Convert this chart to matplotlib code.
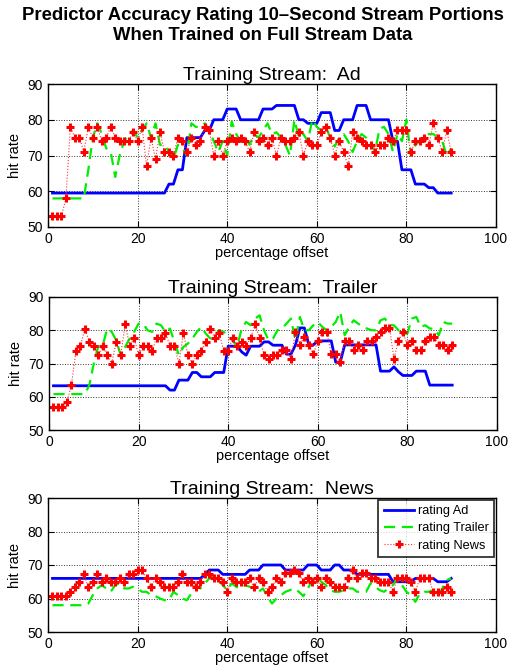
import numpy as np
import matplotlib
matplotlib.use("Agg")
import matplotlib.pyplot as plt

plt.rcParams['font.family'] = ['Liberation Sans', 'DejaVu Sans']

x = list(range(1, 91))

# ---- Training stream: Ad ----
ad_ad = [59.5]*26 + [62, 62, 66, 66, 75, 75, 75, 75, 77, 77, 80, 80, 80, 83, 83, 83,
         80, 80, 80, 80, 80, 83, 83, 83, 84, 84, 84, 84, 84, 80, 80, 79, 79, 79,
         82, 82, 82, 77, 77, 80, 80, 80, 84, 84, 84, 80, 80, 80, 80, 80, 74, 74,
         66, 66, 66, 62, 62, 62, 61, 61, 59.5, 59.5, 59.5, 59.5]
ad_trailer = [58, 58, 58, 58, 58, 58, 58, 58, 66, 75, 79, 76, 72, 71, 64, 70, 74, 76,
              77, 75, 77, 79, 75, 79, 73, 73, 71, 69, 73, 72, 70, 79, 78, 78, 79, 77,
              74, 71, 74, 70, 79.5, 76, 74, 75, 73, 76, 75, 77, 79, 76, 76.5, 75, 73,
              70, 80, 75, 76, 74, 80, 78, 77, 78, 75, 72.5, 75, 76, 74, 71, 74, 76,
              75, 74, 71, 77.5, 78, 76, 71, 76, 74, 80, 70, 73, 74, 75, 76, 76, 75,
              74, 70, 72]
ad_news = [53, 53, 53, 58, 78, 75, 75, 71, 78, 75, 78, 74, 75, 78, 75, 74, 74, 74,
           76.5, 74, 78, 67, 75, 69, 76.5, 71, 71, 70, 75, 74, 71, 75, 73, 74, 78, 77,
           70, 74, 70, 74, 75, 74, 75, 74, 71, 76.5, 74, 75, 73, 75, 70, 75, 74, 74,
           75, 76.5, 70, 74, 73, 73, 76.5, 78, 75, 70, 74, 71, 67, 76.5, 75, 74, 73,
           73, 71, 73, 73, 75, 74, 77, 77, 77, 71, 74, 74, 75, 73, 79, 75, 71, 77, 71]

# ---- Training stream: Trailer ----
tr_ad = [63.3]*26 + [62, 62, 65, 65, 65, 67.3, 67.3, 66, 66, 66, 67.3, 67.3, 67.3,
         75.2, 75.2, 75.2, 73.5, 72.5, 75.2, 75.2, 75.2, 76.5, 76.5, 75.5, 75.5, 75.5,
         72.8, 72.8, 75.5, 80.7, 80.7, 75.6, 75.6, 76.8, 76.8, 76.8, 76.8, 70.4, 70.4,
         75.6, 75.6, 75.6, 75.6, 75.6, 75.6, 75.6, 75.6, 67.7, 67.7, 67.7, 69, 67.5,
         66.4, 66.4, 66.4, 67.7, 67.7, 67.7, 63.5, 63.5, 63.5, 63.5, 63.5, 63.5]
tr_trailer = [60.8]*8 + [63.5, 70, 75.2, 75.5, 80.5, 79.5, 77, 72.5, 75, 77.5, 79.5, 82,
              82, 80, 79.5, 82, 81.5, 79.5, 80.5, 76.5, 72.5, 75, 76, 77.5, 79.5, 81,
              79, 77.5, 78.5, 80, 79.5, 78.5, 77, 75, 80.5, 82.5, 81.5, 83.5, 84.5, 80,
              77, 77.5, 80, 80.5, 82, 83.5, 77, 84, 80, 80, 81.5, 82.5, 81, 80, 81,
              82.5, 85.5, 78.5, 81, 83, 82, 81, 80.5, 80, 80, 83, 83.5, 81.5, 81.5, 80,
              79, 79, 83.5, 84, 81, 81.5, 80.5, 80.5, 78.5, 82.5, 82, 82]
tr_news = [56.8, 56.8, 56.8, 58.3, 63.5, 73.7, 75.3, 80.5, 76.5, 75.3, 72.5, 75.3, 72.5,
           70, 76.5, 72.5, 81.8, 75.3, 77.7, 72.5, 75.3, 75.3, 73.7, 77.7, 77.7, 79.2,
           75.3, 75.3, 70, 79.2, 72.5, 70, 72.5, 73.7, 76.5, 80.5, 77.7, 79.2, 73.7,
           73.7, 77.7, 75.3, 76.5, 75.3, 77.7, 81.8, 77.7, 72.5, 71.3, 72.5, 72.5, 74,
           74, 71.5, 79.4, 75.6, 78, 75.6, 72.8, 76.8, 79.4, 79.4, 72.8, 72.8, 70.4,
           76.8, 76.8, 74, 75.6, 74, 76.8, 76.8, 78, 79.4, 80.7, 80.7, 71.5, 76.8, 79.4,
           75.6, 76.8, 74, 74, 76.8, 78, 78, 75.6, 75.6, 74, 75.6]

# ---- Training stream: News ----
nw_ad = [66]*34 + [67, 68.5, 68.5, 68.5, 67.2, 67.2, 67.2, 67.2, 67.2, 67.2, 68.5, 68.5,
       68.5, 70, 70, 70, 70, 70, 68.5, 68.5, 68.5, 68.5, 68.5, 70, 70, 70, 68.5, 68.5,
       68.5, 70, 70, 68.5, 68.5, 68.5, 67.2, 67.2, 67.2, 67.2, 67.2, 67.2, 67.2, 67.2,
       65, 65, 65, 65, 65, 66, 66, 66, 66, 66, 65, 65, 65, 66]
nw_trailer = [58]*8 + [58.5, 61, 63, 64, 63, 62, 64, 64.5, 63, 63, 63.5, 63, 62, 62, 61,
              60.7, 60, 59.5, 59.5, 62, 61, 60, 59.5, 61.5, 64, 63, 64.5, 66, 67, 65.5,
              64, 62.5, 64.5, 63.5, 63, 64, 63.5, 63, 62, 63, 60.5, 58.5, 60, 61, 62,
              62.5, 63, 62, 60.7, 63, 65.5, 66.5, 65, 64, 62.5, 62, 62, 62.5, 63, 63, 62,
              62, 62, 64.5, 63.5, 62.5, 62, 63, 64, 66, 64, 62, 61, 59, 61.5, 62, 62,
              62.5, 60.7, 63, 65.5, 66]
nw_news = [60.7, 60.7, 60.7, 60.7, 62, 63.5, 65, 67.2, 63.3, 65, 67.2, 65, 66, 65, 65,
           66, 65, 67.2, 67.2, 68.5, 68.5, 66, 63.3, 66, 65, 63.3, 63.3, 63.3, 65, 67.2,
           65, 65, 63.3, 65, 67.2, 67.2, 66, 66, 65, 62, 66, 65, 65, 65, 66, 63.3, 66,
           65, 62, 63.3, 66, 65, 67.5, 67.5, 68.5, 67.5, 65, 66, 65, 66, 63.3, 66, 65,
           63.3, 63.3, 63.3, 66, 68.5, 66, 67.5, 67.5, 66, 66, 65, 65, 65, 62, 66, 66,
           66, 65, 62, 66, 66, 66, 62, 62, 62, 63.3, 62]

panels = [
    ("Training Stream:  Ad", ad_ad, ad_trailer, ad_news),
    ("Training Stream:  Trailer", tr_ad, tr_trailer, tr_news),
    ("Training Stream:  News", nw_ad, nw_trailer, nw_news),
]
labels = ["rating Ad", "rating Trailer", "rating News"]

W, H = 525, 670
fig = plt.figure(figsize=(W/100, H/100), dpi=100)
boxes = [(48, 84, 496, 227), (49, 297, 497, 430), (48, 498, 496, 632)]

for (title, a, t, n), (l, tp, r, b) in zip(panels, boxes):
    ax = fig.add_axes([l/W, 1 - b/H, (r-l)/W, (b-tp)/H])
    ax.plot(x, a, color='#0000ff', lw=2.0, label=labels[0])
    ax.plot(x, t, color='#00ee00', lw=1.6, linestyle=(0, (5, 3)), label=labels[1])
    ax.plot(x, n, color='#ff3030', lw=0.8, linestyle=':', marker='+',
            markersize=6, markeredgewidth=2.2, markeredgecolor='#ff0000',
            label=labels[2])
    ax.set_xlim(0, 100)
    ax.set_ylim(50, 90)
    ax.set_xticks([0, 20, 40, 60, 80, 100])
    ax.set_yticks([50, 60, 70, 80, 90])
    ax.grid(True, linestyle=':', color='#333333', lw=0.7)
    ax.tick_params(direction='in', top=True, right=True, labelsize=10, length=4)
    for s in ax.spines.values():
        s.set_linewidth(1.0)
    ax.set_title(title, fontsize=14, pad=3)
    ax.set_xlabel("percentage offset", fontsize=10.5, labelpad=0)
    ax.set_ylabel("hit rate", fontsize=10.5, labelpad=4)
    if title.endswith("News"):
        leg = ax.legend(loc='upper right', fontsize=9.2, frameon=True, fancybox=False,
                        borderaxespad=0.15, handlelength=2.4, labelspacing=0.42,
                        borderpad=0.4, handletextpad=0.3, numpoints=1)
        leg.get_frame().set_edgecolor('black')
        leg.get_frame().set_linewidth(1.3)

fig.text(0.5, 1 - 15/H, "Predictor Accuracy Rating 10\u2013Second Stream Portions",
         ha='center', va='center', fontsize=13.3, fontweight='bold')
fig.text(0.5, 1 - 35/H, "When Trained on Full Stream Data",
         ha='center', va='center', fontsize=13.3, fontweight='bold')

fig.savefig("out.png", dpi=100)
